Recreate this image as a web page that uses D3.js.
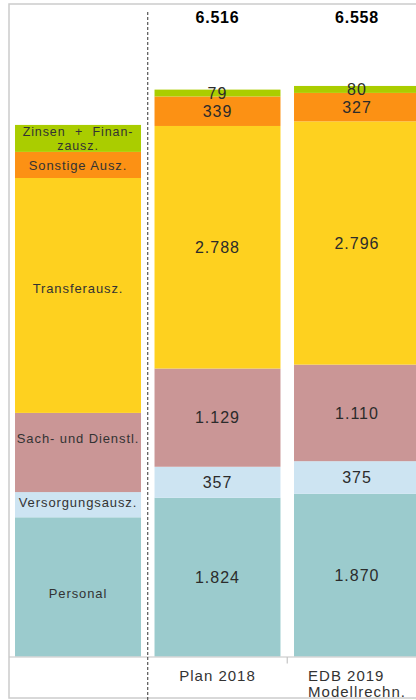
<!DOCTYPE html>
<html>
<head>
<meta charset="utf-8">
<script src="https://cdn.jsdelivr.net/npm/d3@7"></script>
<style>
  html, body { margin: 0; padding: 0; background: #fff; }
  svg { display: block; font-family: "Liberation Sans", Arial, sans-serif; }
</style>
</head>
<body>
<div id="chart"></div>
<script>
// series, stacked from the bottom up
const series = ['Personal', 'Versorgungsausz.', 'Sach- und Dienstl.', 'Transferausz.', 'Sonstige Ausz.', 'Zinsen + Finanzausz.'];
const colors = ['#9bcbcd', '#cde4f2', '#ca9696', '#fed11f', '#fc9114', '#aacd00'];

const categories = ['Plan 2018', 'EDB 2019'];
const categoryLabels = [['Plan 2018'], ['EDB 2019', 'Modellrechn.']];
const plan2018 = [1824, 357, 1129, 2788, 339, 79];
const edb2019 = [1870, 375, 1110, 2796, 327, 80];

// the legend column is drawn as its own stacked bar (box sizes in value units)
const legendSizes = [1600, 290, 910, 2700, 300, 310];
const legendLines = [['Personal'], ['Versorgungsausz.'], ['Sach- und Dienstl.'], ['Transferausz.'], ['Sonstige Ausz.'], ['Zinsen + Finan-', 'zausz.']];

const yMax = 7500;

function init() {
  const width = 416;
  const height = 700;
  const baseY = 656.5;
  // vertical nudge of the legend texts inside their boxes
  const legendDy = [7, -2, -14, -7, 0, 0];

  const de = d3.formatLocale({ decimal: ',', thousands: '.', grouping: [3], currency: ['', ' €'] });
  const fmt = de.format(',d');

  const svg = d3
    .select('#chart')
    .append('svg')
    .attr('width', width)
    .attr('height', height);

  const x = d3
    .scaleBand()
    .domain(['legend'].concat(categories))
    .range([8.25, 426.75])
    .paddingInner(0.097)
    .paddingOuter(0.0485);

  const y = d3.scaleLinear().domain([0, yMax]).range([baseY, 4]);

  // frame
  svg
    .append('rect')
    .attr('x', 9)
    .attr('y', 4)
    .attr('width', 440)
    .attr('height', 694)
    .attr('fill', 'none')
    .attr('stroke', '#cccccc')
    .attr('stroke-width', 1.5);

  // stacked data
  const rows = categories.map((c, i) => {
    const vals = i === 0 ? plan2018 : edb2019;
    const row = { category: c };
    series.forEach((s, j) => (row[s] = vals[j]));
    return row;
  });
  const stacked = d3.stack().keys(series)(rows);

  const layers = svg
    .selectAll('g.layer')
    .data(stacked)
    .enter()
    .append('g')
    .attr('class', 'layer')
    .attr('fill', (d, i) => colors[i]);

  layers
    .selectAll('rect')
    .data((d) => d)
    .enter()
    .append('rect')
    .attr('x', (d) => x(d.data.category))
    .attr('y', (d) => y(d[1]))
    .attr('width', x.bandwidth())
    .attr('height', (d) => y(d[0]) - y(d[1]));

  layers
    .selectAll('text')
    .data((d) => d)
    .enter()
    .append('text')
    .attr('x', (d) => x(d.data.category) + x.bandwidth() / 2)
    .attr('y', (d) => (y(d[0]) + y(d[1])) / 2)
    .attr('dy', '0.35em')
    .attr('text-anchor', 'middle')
    .attr('fill', '#2b2b2b')
    .style('font-size', '16px')
    .style('letter-spacing', '1px')
    .text((d) => fmt(d[1] - d[0]));

  // legend column
  const legendStack = d3.stack().keys(series)([
    Object.fromEntries(series.map((s, i) => [s, legendSizes[i]])),
  ]);

  const legend = svg
    .selectAll('g.legend')
    .data(legendStack)
    .enter()
    .append('g')
    .attr('class', 'legend');

  legend
    .append('rect')
    .attr('x', x('legend'))
    .attr('y', (d) => y(d[0][1]))
    .attr('width', x.bandwidth())
    .attr('height', (d) => y(d[0][0]) - y(d[0][1]))
    .attr('fill', (d, i) => colors[i]);

  legend.each(function (d, i) {
    const lines = legendLines[i];
    const multi = lines.length > 1;
    const cy = (y(d[0][0]) + y(d[0][1])) / 2 + legendDy[i];
    const t = d3
      .select(this)
      .append('text')
      .attr('text-anchor', 'middle')
      .attr('fill', '#333')
      .style('font-size', multi ? '12.5px' : '13px')
      .style('letter-spacing', '0.9px');
    lines.forEach((line, k) => {
      t.append('tspan')
        .attr('x', x('legend') + x.bandwidth() / 2)
        .attr('y', cy + (k - (lines.length - 1) / 2) * 14)
        .attr('dy', '0.35em')
        .style('word-spacing', multi && k === 0 ? '5px' : '0px')
        .text(line);
    });
  });

  // totals on top
  svg
    .selectAll('text.total')
    .data(rows)
    .enter()
    .append('text')
    .attr('class', 'total')
    .attr('x', (d) => x(d.category) + x.bandwidth() / 2)
    .attr('y', 17)
    .attr('dy', '0.35em')
    .attr('text-anchor', 'middle')
    .attr('fill', '#000')
    .style('font-size', '16px')
    .style('font-weight', 'bold')
    .style('letter-spacing', '0.8px')
    .text((d) => fmt(d3.sum(series, (s) => d[s])));

  // base axis line
  svg
    .append('line')
    .attr('x1', 9)
    .attr('x2', width)
    .attr('y1', baseY + 0.5)
    .attr('y2', baseY + 0.5)
    .attr('stroke', '#c4c4c4')
    .attr('stroke-width', 1.2);

  const gap = (x.step() * x.paddingInner()) / 2;

  // tick between the two bars
  svg
    .append('line')
    .attr('x1', x('EDB 2019') - gap)
    .attr('x2', x('EDB 2019') - gap)
    .attr('y1', baseY + 0.5)
    .attr('y2', baseY + 7)
    .attr('stroke', '#c4c4c4')
    .attr('stroke-width', 1.2);

  // dashed separator between legend and bars
  svg
    .append('line')
    .attr('x1', x('Plan 2018') - gap)
    .attr('x2', x('Plan 2018') - gap)
    .attr('y1', 12)
    .attr('y2', height)
    .attr('stroke', '#333')
    .attr('stroke-width', 1)
    .attr('stroke-dasharray', '3,2');

  // category labels
  categories.forEach((c, i) => {
    const lines = categoryLabels[i];
    const t = svg
      .append('text')
      .attr('fill', '#333')
      .style('font-size', '15px')
      .style('letter-spacing', '1px');
    const spans = lines.map((line, k) =>
      t.append('tspan').attr('y', 676 + k * 16).attr('dy', '0.35em').text(line)
    );
    const widest = d3.max(spans, (s) => s.node().getComputedTextLength());
    const left = x(c) + x.bandwidth() / 2 - widest / 2;
    spans.forEach((s) => s.attr('x', left));
  });
}

init();
</script>
</body>
</html>
